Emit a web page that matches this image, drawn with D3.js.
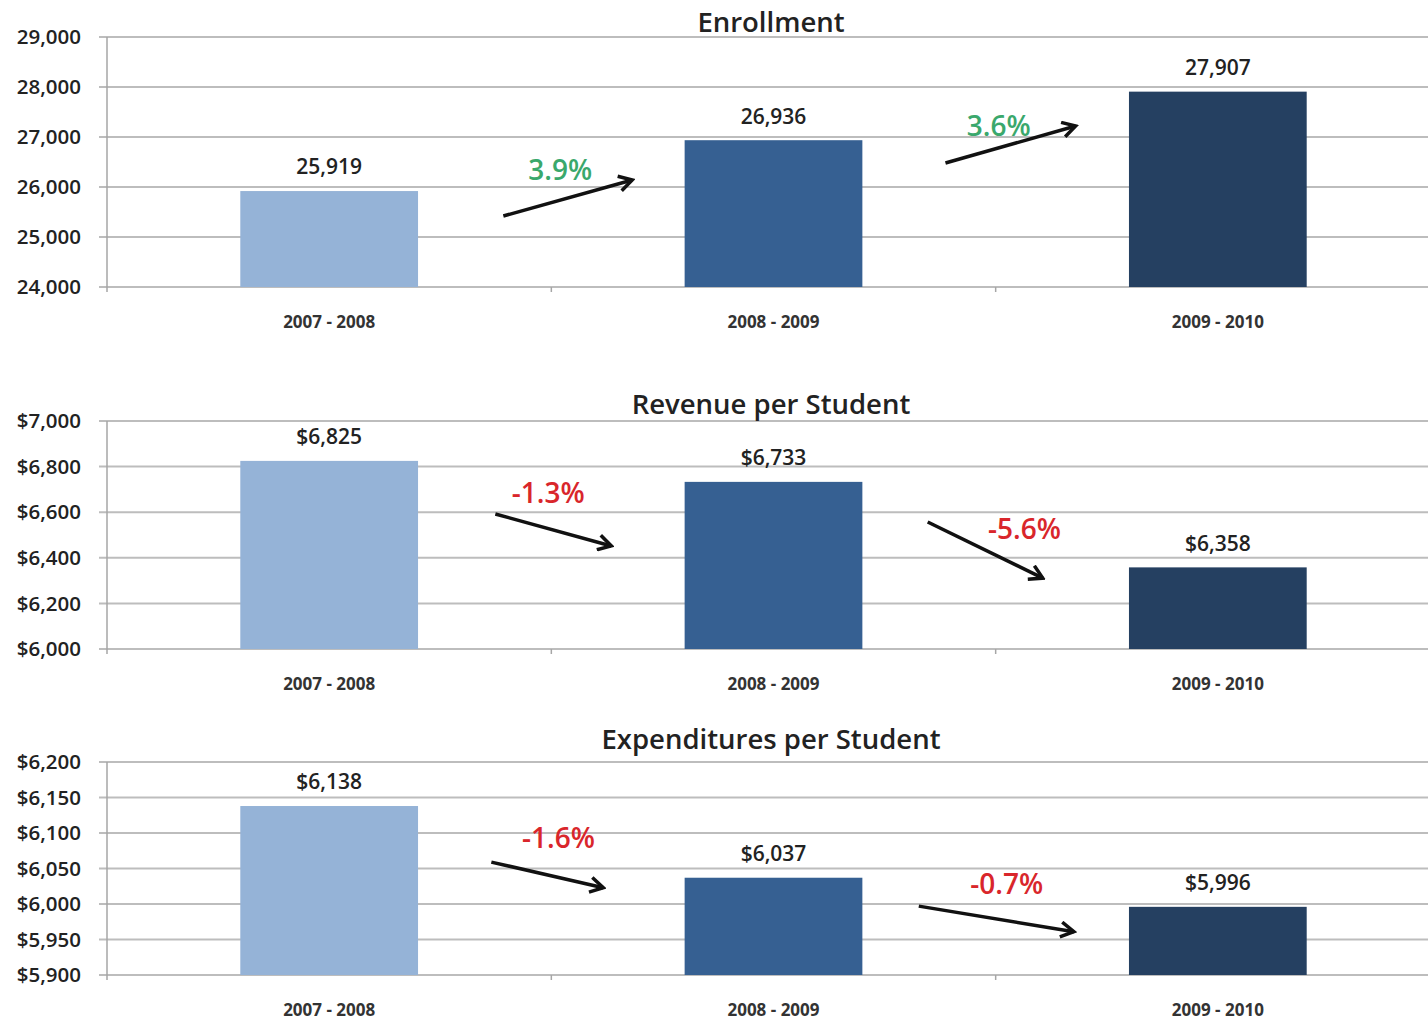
<!DOCTYPE html>
<html lang="en">
<head>
    <meta charset="UTF-8">
    <title>Enrollment, Revenue and Expenditures</title>
    <script src="https://cdn.jsdelivr.net/npm/d3@7"></script>
    <style>
        body{
            margin: 0;
            background-color: white;
        }
        svg text{
            font-family: "Open Sans", sans-serif;
        }
        .grid line{
            stroke: #bdbdbd;
            stroke-width: 2px;
        }
        .ytick{
            font-size: 20.5px;
            font-weight: 600;
            fill: #222;
        }
        .cat{
            font-size: 17px;
            font-weight: 700;
            fill: #333;
        }
        .value{
            font-size: 21px;
            font-weight: 600;
            fill: #222;
        }
        .title{
            font-size: 27.5px;
            font-weight: 600;
            fill: #222;
        }
        .pct{
            font-size: 28px;
            font-weight: 600;
        }
    </style>
</head>
<body>
<svg id="canvas" width="1428" height="1020"></svg>
<script>
    // data
    let categories = ["2007 - 2008", "2008 - 2009", "2009 - 2010"];
    let enrollment = [25919, 26936, 27907];
    let revenue = [6825, 6733, 6358];
    let expenditures = [6138, 6037, 5996];
    let enrollmentChange = ["3.9%", "3.6%"];
    let revenueChange = ["-1.3%", "-5.6%"];
    let expenditureChange = ["-1.6%", "-0.7%"];
    let enrollmentTicks = [24000, 25000, 26000, 27000, 28000, 29000];
    let revenueTicks = [6000, 6200, 6400, 6600, 6800, 7000];
    let expenditureTicks = [5900, 5950, 6000, 6050, 6100, 6150, 6200];
    let barColors = ["#95b3d7", "#366092", "#254061"];

    let svg = d3.select('svg');
    let left = 107, right = 1440;

    // x band scale shared by all three panels
    let x = d3.scaleBand().domain(categories).range([left, right]);
    // continuous position in "category units" for the arrows
    let u = d3.scaleLinear().domain([0, 3]).range([left, right]);

    svg.append("defs").append("marker")
        .attr("id", "head")
        .attr("markerUnits", "userSpaceOnUse")
        .attr("viewBox", "0 0 18 18")
        .attr("refX", 15).attr("refY", 9)
        .attr("markerWidth", 18).attr("markerHeight", 18)
        .attr("orient", "auto")
        .append("path")
        .attr("d", "M2,1.5 L15,9 L2,16.5")
        .attr("fill", "none")
        .attr("stroke", "#111")
        .attr("stroke-width", 3.5);

    // arrows: [from u, from value, to u, to value]; label: [u, value]
    let panels = [
        {title: "Enrollment", values: enrollment, ticks: enrollmentTicks, fmt: d3.format(","),
            y0: 287, y1: 37, titleY: 22, change: enrollmentChange, color: "#3aa86c",
            arrows: [[0.892, 25420, 1.182, 26140], [1.887, 26480, 2.180, 27220]],
            labels: [[1.020, 26340], [2.007, 27220]]},
        {title: "Revenue per Student", values: revenue, ticks: revenueTicks, fmt: d3.format("$,"),
            y0: 649, y1: 421, titleY: 404, change: revenueChange, color: "#d9262b",
            arrows: [[0.874, 6592, 1.135, 6452], [1.847, 6557, 2.106, 6311]],
            labels: [[0.993, 6684], [2.065, 6526]]},
        {title: "Expenditures per Student", values: expenditures, ticks: expenditureTicks, fmt: d3.format("$,"),
            y0: 975, y1: 762, titleY: 739, change: expenditureChange, color: "#d9262b",
            arrows: [[0.865, 6059, 1.117, 6023], [1.827, 5997, 2.176, 5961]],
            labels: [[1.016, 6093], [2.025, 6028]]}
    ];

    panels.forEach(p => drawPanel(p));

    function drawPanel(p){
        let y = d3.scaleLinear()
            .domain(d3.extent(p.ticks))
            .range([p.y0, p.y1]);
        let g = svg.append('g');

        // gridlines (with the little tick stub left of the axis)
        g.append('g').attr("class", "grid")
            .selectAll('line')
            .data(p.ticks)
            .enter()
            .append('line')
            .attr("x1", left - 8).attr("x2", 1428)
            .attr("y1", d => y(d)).attr("y2", d => y(d));

        // y axis line
        g.append('line')
            .attr("x1", left).attr("x2", left)
            .attr("y1", p.y1).attr("y2", p.y0 + 5)
            .attr("stroke", "#a6a6a6").attr("stroke-width", 1.5);

        // category boundary ticks below the baseline
        g.selectAll('line.xtick')
            .data(categories.slice(1))
            .enter()
            .append('line')
            .attr("class", "xtick")
            .attr("x1", d => x(d)).attr("x2", d => x(d))
            .attr("y1", p.y0).attr("y2", p.y0 + 5)
            .attr("stroke", "#a6a6a6").attr("stroke-width", 1.5);

        g.selectAll('text.ytick')
            .data(p.ticks)
            .enter()
            .append('text')
            .attr("class", "ytick")
            .attr("x", 81)
            .attr("y", d => y(d))
            .attr("dy", "0.35em")
            .attr("text-anchor", "end")
            .text(d => p.fmt(d));

        // bars
        let bw = x.bandwidth() * 0.4;
        g.selectAll('rect')
            .data(p.values)
            .enter()
            .append('rect')
            .attr("x", (d, i) => x(categories[i]) + (x.bandwidth() - bw) / 2)
            .attr("y", d => y(d))
            .attr("width", bw)
            .attr("height", d => p.y0 - y(d))
            .attr("fill", (d, i) => barColors[i]);

        g.selectAll('text.value')
            .data(p.values)
            .enter()
            .append('text')
            .attr("class", "value")
            .attr("x", (d, i) => x(categories[i]) + x.bandwidth() / 2)
            .attr("y", d => y(d) - 24)
            .attr("dy", "0.35em")
            .attr("text-anchor", "middle")
            .text(d => p.fmt(d));

        g.selectAll('text.cat')
            .data(categories)
            .enter()
            .append('text')
            .attr("class", "cat")
            .attr("x", d => x(d) + x.bandwidth() / 2)
            .attr("y", p.y0 + 35)
            .attr("dy", "0.35em")
            .attr("text-anchor", "middle")
            .text(d => d);

        g.append('text')
            .attr("class", "title")
            .attr("x", 771)
            .attr("y", p.titleY)
            .attr("dy", "0.35em")
            .attr("text-anchor", "middle")
            .text(p.title);

        // change arrows and percentages
        g.selectAll('line.arrow')
            .data(p.arrows)
            .enter()
            .append('line')
            .attr("class", "arrow")
            .attr("x1", d => u(d[0])).attr("y1", d => y(d[1]))
            .attr("x2", d => u(d[2])).attr("y2", d => y(d[3]))
            .attr("stroke", "#111")
            .attr("stroke-width", 3.5)
            .attr("marker-end", "url(#head)");

        g.selectAll('text.pct')
            .data(p.labels)
            .enter()
            .append('text')
            .attr("class", "pct")
            .attr("x", d => u(d[0]))
            .attr("y", d => y(d[1]))
            .attr("dy", "0.35em")
            .attr("text-anchor", "middle")
            .attr("fill", p.color)
            .text((d, i) => p.change[i]);
    }
</script>
</body>
</html>
